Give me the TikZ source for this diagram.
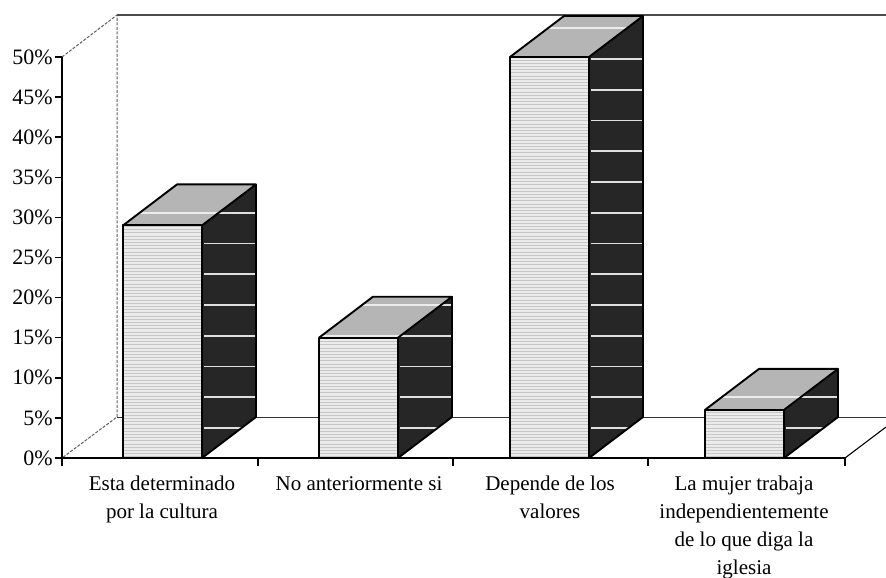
\documentclass[tikz,border=0pt]{standalone}
\usepackage{fontspec}
\setmainfont{Liberation Serif}
\begin{document}
\begin{tikzpicture}[x=1pt,y=-1pt]
\useasboundingbox[fill=white] (0,0) rectangle (886,578);
\tikzset{
  wallline/.style={gray!75!black, line width=1pt, dash pattern=on 3pt off 1.5pt},
  axisline/.style={black, line width=1.5pt},
  barout/.style={black, line width=1.9pt, line join=round},
  frontface/.style={fill=gray!16},
  sideface/.style={fill=black!85},
  topface/.style={fill=gray!58},
  stripe/.style={gray!25, line width=1.6pt},
  texline/.style={gray!45, line width=0.35pt},
  lbl/.style={font=\fontsize{21}{28}\selectfont, align=center, inner sep=0pt, anchor=north},
  ylbl/.style={font=\fontsize{22}{24}\selectfont, anchor=east, inner sep=0pt}
}
% back wall and floor
\draw[wallline] (62,57) -- (117,15) -- (117,417) -- (62,458);
\draw[gray!60!black, line width=1.1pt] (117,15) -- (886,15);
\draw[black!80, line width=0.9pt] (117,417) -- (886,417);
\draw[black, line width=1.1pt] (845,458) -- (886,427);
% bars
\foreach \L/\v in {123/29, 319/15, 510/50, 705/6}{
  \pgfmathsetmacro\T{458-8.02*\v}
  \pgfmathsetmacro\R{\L+79}
  % front
  \fill[frontface] (\L,\T) rectangle (\R,458);
  \begin{scope}
    \clip (\L,\T) rectangle (\R,458);
    \foreach \k in {0,...,140}{
      \draw[texline] (\L,15+3.2*\k) -- (\R,15+3.2*\k);
    }
  \end{scope}
  % side
  \fill[sideface] (\R,458) -- (\R+54,417) -- (\R+54,\T-41) -- (\R,\T) -- cycle;
  \begin{scope}
    \clip (\R,458) -- (\R+54,417) -- (\R+54,\T-41) -- (\R,\T) -- cycle;
    \foreach \k in {0,...,14}{
      \draw[stripe] (\R+2,59+30.75*\k) -- (\R+54,59+30.75*\k);
    }
  \end{scope}
  % top
  \fill[topface] (\L,\T) -- (\R,\T) -- (\R+54,\T-41) -- (\L+54,\T-41) -- cycle;
  \begin{scope}
    \clip (\L,\T) -- (\R,\T) -- (\R+54,\T-41) -- (\L+54,\T-41) -- cycle;
    \foreach \k in {-1,...,14}{
      \draw[stripe, gray!15] (\L,59+30.75*\k) -- (\R+54,59+30.75*\k);
    }
  \end{scope}
  % outlines
  \draw[barout] (\L,458) -- (\L,\T) -- (\R,\T) -- (\R,458);
  \draw[barout] (\L,\T) -- (\L+54,\T-41) -- (\R+54,\T-41) -- (\R,\T);
  \draw[barout] (\R+54,\T-41) -- (\R+54,417) -- (\R,458);
}
% axes
\draw[axisline] (62,57) -- (62,458) -- (845,458);
\foreach \i in {0,...,10}{
  \pgfmathtruncatemacro\p{5*\i}
  \draw[axisline] (55,458-40.1*\i) -- (62,458-40.1*\i);
  \node[ylbl] (y\i) at (53,458-40.1*\i) {\p\%};
}
\foreach \x in {62,258,453,648,845}{
  \draw[axisline] (\x,458) -- (\x,466);
}
% category labels
\node[lbl] (c1) at (162,471) {\strut Esta determinado\\por la cultura};
\node[lbl] (c2) at (359,471) {\strut No anteriormente si};
\node[lbl] (c3) at (550,471) {\strut Depende de los\\valores};
\node[lbl] (c4) at (744,471) {\strut La mujer trabaja\\independientemente\\de lo que diga la\\iglesia};
\end{tikzpicture}
\end{document}
